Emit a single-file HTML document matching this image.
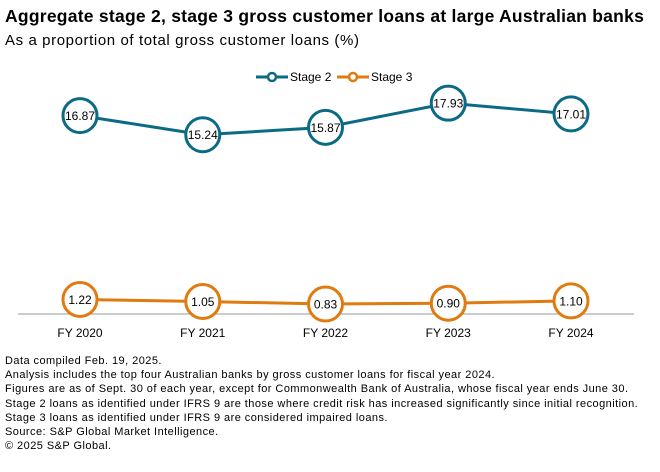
<!DOCTYPE html>
<html><head><meta charset="utf-8"><style>
body{margin:0;width:660px;height:472px;background:#fff;font-family:"Liberation Sans",sans-serif;position:relative;overflow:hidden;color:#000}
.t{position:absolute;left:5px;top:6px;font-size:17.5px;font-weight:bold;letter-spacing:0.25px;white-space:nowrap}
.s{position:absolute;left:5px;top:32px;font-size:15px;letter-spacing:0.6px;white-space:nowrap}
.n{position:absolute;left:5px;top:354px;font-size:11px;line-height:14.2px;letter-spacing:0.45px;white-space:nowrap}
svg{position:absolute;left:0;top:0}
</style></head><body>
<div class="t">Aggregate stage 2, stage 3 gross customer loans at large Australian banks</div>
<div class="s">As a proportion of total gross customer loans (%)</div>
<svg id="c" width="660" height="350"></svg>
<div class="n">Data compiled Feb. 19, 2025.<br>Analysis includes the top four Australian banks by gross customer loans for fiscal year 2024.<br>Figures are as of Sept. 30 of each year, except for Commonwealth Bank of Australia, whose fiscal year ends June 30.<br>Stage 2 loans as identified under IFRS 9 are those where credit risk has increased significantly since initial recognition.<br>Stage 3 loans as identified under IFRS 9 are considered impaired loans.<br>Source: S&amp;P Global Market Intelligence.<br>© 2025 S&amp;P Global.</div>
<script>
const categories=["FY 2020","FY 2021","FY 2022","FY 2023","FY 2024"];
const stage2=[16.87,15.24,15.87,17.93,17.01];
const stage3=[1.22,1.05,0.83,0.90,1.10];
const NS="http://www.w3.org/2000/svg",svg=document.getElementById('c');
function x(i){return 80+i*122.75}
function y(v){return 313.8-v*11.75}
function mk(t,a,p){const e=document.createElementNS(NS,t);for(const k in a)e.setAttribute(k,a[k]);(p||svg).appendChild(e);return e}
const ax=mk('line',{x1:18,x2:634,y1:314,y2:314,stroke:'#999','stroke-width':1});


categories.forEach((c,i)=>{const t=mk('text',{x:x(i),y:337,'text-anchor':'middle','font-size':12});t.textContent=c;

});
function series(vals,col,name){
const p=mk('polyline',{points:vals.map((v,i)=>x(i)+','+y(v)).join(' '),fill:'none',stroke:col,'stroke-width':3});


vals.forEach((v,i)=>{const c=mk('circle',{cx:x(i),cy:y(v),r:17,fill:'#fff',stroke:col,'stroke-width':3});


const t=mk('text',{x:x(i),y:y(v)+4.5,'text-anchor':'middle','font-size':12});t.textContent=v.toFixed(2);

});}
series(stage2,'#0b6a85','stage2');
series(stage3,'#e07b10','stage3');
function leg(lx,col,label,name){const g=mk('g',{});


mk('line',{x1:lx,x2:lx+32,y1:77,y2:77,stroke:col,'stroke-width':3},g);
mk('circle',{cx:lx+16,cy:77,r:4,fill:'#fff',stroke:col,'stroke-width':2.5},g);
const t=mk('text',{x:lx+34,y:81,'font-size':12},g);t.textContent=label;}
leg(256,'#0b6a85','Stage 2','legend-stage2');
leg(337,'#e07b10','Stage 3','legend-stage3');
</script>
</body></html>
